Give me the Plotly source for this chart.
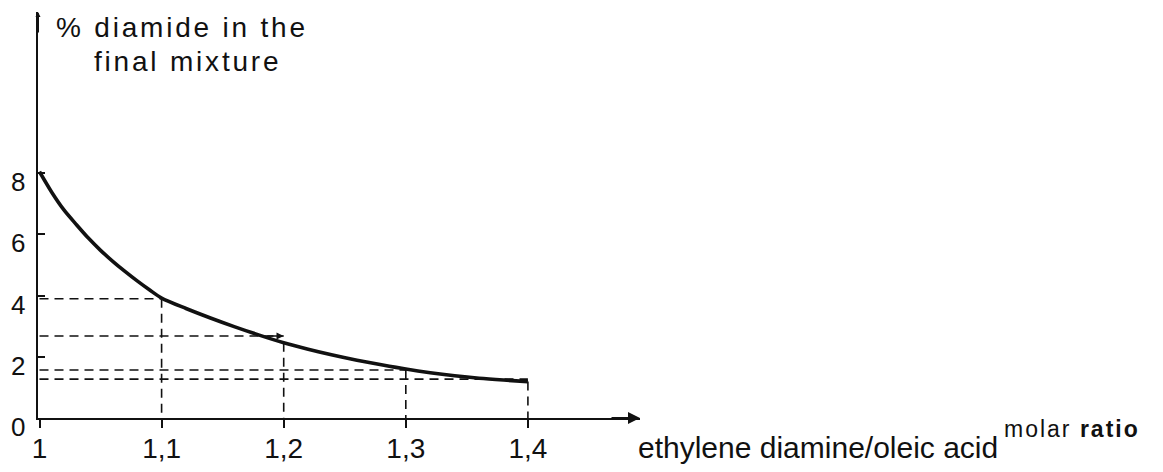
import plotly.graph_objects as go

# Molar ratio ethylene diamine / oleic acid vs. % diamide in the final mixture
curve_x = [1.0, 1.01, 1.02, 1.03, 1.04, 1.05, 1.06, 1.07, 1.08, 1.09, 1.1,
           1.12, 1.14, 1.16, 1.18, 1.2, 1.22, 1.24, 1.26, 1.28, 1.3,
           1.32, 1.34, 1.36, 1.38, 1.4]
curve_y = [8.05, 7.38, 6.8, 6.33, 5.88, 5.48, 5.12, 4.79, 4.48, 4.19, 3.92,
           3.58, 3.27, 2.98, 2.71, 2.46, 2.25, 2.06, 1.89, 1.74, 1.6,
           1.48, 1.38, 1.3, 1.24, 1.19]

# Read-off construction lines at the marked ratios
guide_x = [1.1, 1.2, 1.3, 1.4]
guide_level = [3.9, 2.68, 1.57, 1.27]   # horizontal dashed levels
guide_top = [3.92, 2.46, 1.6, 1.19]     # where the verticals meet the curve

x_ticks = [1.0, 1.1, 1.2, 1.3, 1.4]
x_ticktext = ["1", "1,1", "1,2", "1,3", "1,4"]
y_ticks = [0, 2, 4, 6, 8]
y_ticktext = ["0", "2", "4", "6", "8"]

FONT = "Liberation Sans, Arial, sans-serif"
INK = "#111111"

fig = go.Figure()

dash = "9px,6px"
for gx, lvl, top in zip(guide_x, guide_level, guide_top):
    fig.add_trace(go.Scatter(x=[1.0, gx], y=[lvl, lvl], mode="lines",
                             line=dict(color=INK, width=1.6, dash=dash),
                             hoverinfo="skip", showlegend=False))
    fig.add_trace(go.Scatter(x=[gx, gx], y=[min(top, lvl), 0], mode="lines",
                             line=dict(color=INK, width=1.6, dash=dash),
                             hoverinfo="skip", showlegend=False))

fig.add_trace(go.Scatter(x=curve_x, y=curve_y, mode="lines",
                         line=dict(color=INK, width=3.6, shape="spline", smoothing=0.8),
                         hoverinfo="skip", showlegend=False))

L, R, T, B = 38, 523, 12, 54
PW, PH = 1163 - L - R, 472 - T - B
x_range = [0.99877, 1.4918]
y_range = [0, 13.27]

fig.update_layout(
    width=1163, height=472,
    margin=dict(l=L, r=R, t=T, b=B, autoexpand=False),
    paper_bgcolor="white", plot_bgcolor="white",
    font=dict(family=FONT, color=INK),
    xaxis=dict(range=x_range, showgrid=False, zeroline=False, automargin=False,
               showline=True, linecolor=INK, linewidth=2,
               ticks="outside", ticklen=8, tickwidth=2, tickcolor=INK,
               tickvals=x_ticks, ticktext=x_ticktext,
               tickfont=dict(size=28, family=FONT, color=INK),
               ticklabelstandoff=-4),
    yaxis=dict(range=y_range, showgrid=False, zeroline=False, automargin=False,
               showline=True, linecolor=INK, linewidth=2,
               ticks="inside", ticklen=7, tickwidth=1.5, tickcolor=INK,
               tickvals=y_ticks, showticklabels=False),
)

# y tick labels, set a little below their tick marks
for v, t in zip(y_ticks, y_ticktext):
    fig.add_annotation(xref="paper", yref="y", x=(18 - L) / PW, y=v, yshift=-9,
                       text=t, showarrow=False, xanchor="center", yanchor="middle",
                       font=dict(size=26, family=FONT, color=INK))

# Arrowheads on both axes
fig.add_annotation(xref="paper", yref="paper", x=1.0, y=0, ax=-30, ay=0,
                   text="", showarrow=True,
                   arrowhead=2, arrowsize=1.2, arrowwidth=2, arrowcolor=INK)
fig.add_annotation(xref="paper", yref="paper", x=0.0, y=1.0, ax=0, ay=22,
                   text="", showarrow=True,
                   arrowhead=2, arrowsize=0.5, arrowwidth=2, arrowcolor=INK)
# small arrow on the 1,2 construction line
fig.add_annotation(x=1.2, y=guide_level[1], ax=-18, ay=0, text="", showarrow=True,
                   arrowhead=2, arrowsize=0.9, arrowwidth=1.6, arrowcolor=INK)


def py(pix):
    """Paper y for a pixel row measured from the top of the figure."""
    return 1 - (pix - T) / PH


def px(pix):
    return (pix - L) / PW


# Axis titles
fig.add_annotation(xref="paper", yref="paper", x=px(182), y=py(27),
                   text='<span style="letter-spacing:2.8px">% diamide in the</span>',
                   showarrow=False, xanchor="center", yanchor="middle",
                   font=dict(size=28, family=FONT, color=INK))
fig.add_annotation(xref="paper", yref="paper", x=px(187), y=py(61),
                   text='<span style="letter-spacing:2.8px">final mixture</span>',
                   showarrow=False, xanchor="center", yanchor="middle",
                   font=dict(size=28, family=FONT, color=INK))
fig.add_annotation(xref="paper", yref="paper", x=px(636), y=py(447),
                   text="ethylene diamine/oleic acid",
                   showarrow=False, xanchor="left", yanchor="middle",
                   font=dict(size=30, family=FONT, color=INK))
fig.add_annotation(xref="paper", yref="paper", x=px(1002), y=py(429),
                   text='<span style="letter-spacing:2px">molar <b>ratio</b></span>',
                   showarrow=False, xanchor="left", yanchor="middle",
                   font=dict(size=23, family=FONT, color=INK))

fig.write_html("out.html")
